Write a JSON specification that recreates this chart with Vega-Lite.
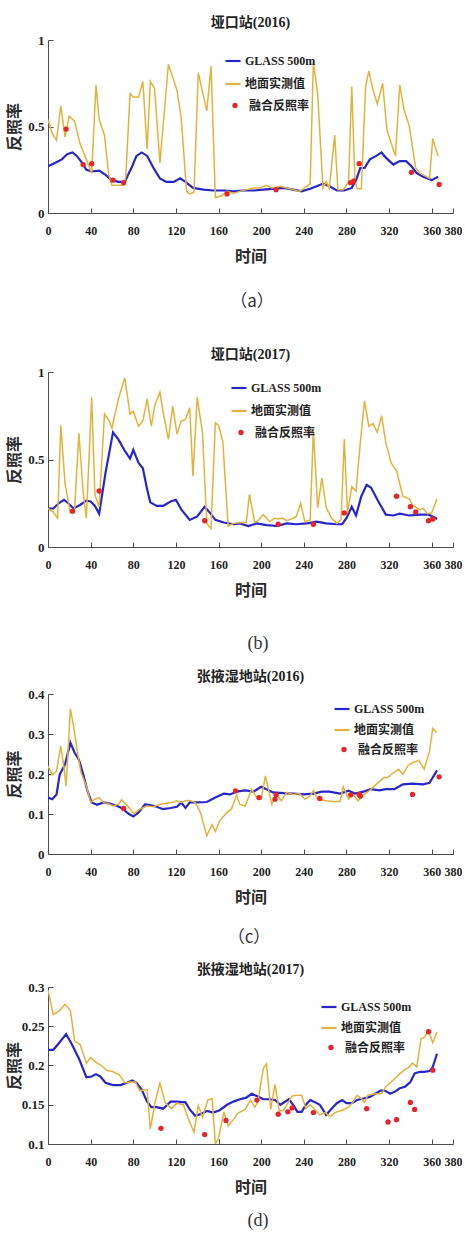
{
 "$schema": "https://vega.github.io/schema/vega-lite/v6.json",
 "background": "white",
 "padding": {"left": 6, "top": 16, "right": 0, "bottom": 0},
 "spacing": 17,
 "resolve": {"scale": {"color": "independent", "fill": "independent"}},
 "config": {
  "view": {"stroke": null},
  "font": "Liberation Serif, Noto Sans CJK SC",
  "axis": {"grid": false, "domainColor": "#4d4d4d", "tickColor": "#4d4d4d", "tickSize": -5, "labelFont": "Liberation Serif", "labelFontSize": 13, "labelFontWeight": "bold", "labelColor": "#1e1e1e", "titleFont": "Noto Sans CJK SC", "titleFontSize": 16, "titleFontWeight": "bold", "titleColor": "#2a2a2a"},
  "axisX": {"labelPadding": 17, "titlePadding": 12, "labelOverlap": false, "labelFlush": false, "labelFontSize": 12},
  "axisY": {"labelPadding": 9, "titlePadding": 0, "minExtent": 26, "maxExtent": 26, "labelOverlap": false},
  "title": {"font": "Liberation Serif, Noto Sans CJK SC", "fontSize": 14, "fontWeight": "bold", "color": "#222222", "offset": 4, "frame": "group"},
  "legend": {"orient": "none", "title": null, "labelFont": "Liberation Serif, Noto Sans CJK SC", "labelFontSize": 12, "labelFontWeight": "bold", "labelColor": "#222222", "symbolSize": 225, "symbolStrokeWidth": 2.2, "rowPadding": 8, "labelOffset": 3, "padding": 0}
 },
 "datasets": {
  "a": [
   {"series":"GLASS 500m","day":0,"albedo":0.27},{"series":"GLASS 500m","day":7,"albedo":0.29},{"series":"GLASS 500m","day":13,"albedo":0.31},{"series":"GLASS 500m","day":18,"albedo":0.34},{"series":"GLASS 500m","day":23,"albedo":0.35},{"series":"GLASS 500m","day":27,"albedo":0.33},{"series":"GLASS 500m","day":32,"albedo":0.29},{"series":"GLASS 500m","day":36,"albedo":0.25},{"series":"GLASS 500m","day":41,"albedo":0.24},{"series":"GLASS 500m","day":48,"albedo":0.245},{"series":"GLASS 500m","day":54,"albedo":0.22},{"series":"GLASS 500m","day":60,"albedo":0.19},{"series":"GLASS 500m","day":66,"albedo":0.18},{"series":"GLASS 500m","day":72,"albedo":0.18},{"series":"GLASS 500m","day":79,"albedo":0.27},{"series":"GLASS 500m","day":83,"albedo":0.33},{"series":"GLASS 500m","day":88,"albedo":0.35},{"series":"GLASS 500m","day":93,"albedo":0.33},{"series":"GLASS 500m","day":99,"albedo":0.26},{"series":"GLASS 500m","day":105,"albedo":0.2},{"series":"GLASS 500m","day":111,"albedo":0.18},{"series":"GLASS 500m","day":118,"albedo":0.18},{"series":"GLASS 500m","day":124,"albedo":0.2},{"series":"GLASS 500m","day":129,"albedo":0.18},{"series":"GLASS 500m","day":136,"albedo":0.145},{"series":"GLASS 500m","day":146,"albedo":0.135},{"series":"GLASS 500m","day":155,"albedo":0.13},{"series":"GLASS 500m","day":165,"albedo":0.13},{"series":"GLASS 500m","day":174,"albedo":0.125},{"series":"GLASS 500m","day":183,"albedo":0.13},{"series":"GLASS 500m","day":193,"albedo":0.13},{"series":"GLASS 500m","day":202,"albedo":0.135},{"series":"GLASS 500m","day":211,"albedo":0.14},{"series":"GLASS 500m","day":221,"albedo":0.145},{"series":"GLASS 500m","day":230,"albedo":0.135},{"series":"GLASS 500m","day":238,"albedo":0.125},{"series":"GLASS 500m","day":246,"albedo":0.14},{"series":"GLASS 500m","day":252,"albedo":0.155},{"series":"GLASS 500m","day":258,"albedo":0.17},{"series":"GLASS 500m","day":264,"albedo":0.155},{"series":"GLASS 500m","day":271,"albedo":0.13},{"series":"GLASS 500m","day":278,"albedo":0.13},{"series":"GLASS 500m","day":285,"albedo":0.145},{"series":"GLASS 500m","day":289,"albedo":0.19},{"series":"GLASS 500m","day":293,"albedo":0.26},{"series":"GLASS 500m","day":297,"albedo":0.26},{"series":"GLASS 500m","day":302,"albedo":0.31},{"series":"GLASS 500m","day":308,"albedo":0.33},{"series":"GLASS 500m","day":313,"albedo":0.35},{"series":"GLASS 500m","day":317,"albedo":0.32},{"series":"GLASS 500m","day":324,"albedo":0.28},{"series":"GLASS 500m","day":330,"albedo":0.3},{"series":"GLASS 500m","day":336,"albedo":0.3},{"series":"GLASS 500m","day":341,"albedo":0.27},{"series":"GLASS 500m","day":346,"albedo":0.23},{"series":"GLASS 500m","day":352,"albedo":0.21},{"series":"GLASS 500m","day":360,"albedo":0.19},{"series":"GLASS 500m","day":366,"albedo":0.21},
   {"series":"地面实测值","day":0,"albedo":0.54},{"series":"地面实测值","day":4,"albedo":0.46},{"series":"地面实测值","day":8,"albedo":0.42},{"series":"地面实测值","day":12,"albedo":0.62},{"series":"地面实测值","day":16,"albedo":0.44},{"series":"地面实测值","day":20,"albedo":0.56},{"series":"地面实测值","day":25,"albedo":0.53},{"series":"地面实测值","day":30,"albedo":0.4},{"series":"地面实测值","day":36,"albedo":0.31},{"series":"地面实测值","day":41,"albedo":0.23},{"series":"地面实测值","day":45,"albedo":0.74},{"series":"地面实测值","day":48,"albedo":0.54},{"series":"地面实测值","day":53,"albedo":0.45},{"series":"地面实测值","day":57,"albedo":0.22},{"series":"地面实测值","day":60,"albedo":0.16},{"series":"地面实测值","day":66,"albedo":0.16},{"series":"地面实测值","day":71,"albedo":0.16},{"series":"地面实测值","day":73,"albedo":0.21},{"series":"地面实测值","day":77,"albedo":0.69},{"series":"地面实测值","day":80,"albedo":0.67},{"series":"地面实测值","day":85,"albedo":0.67},{"series":"地面实测值","day":89,"albedo":0.76},{"series":"地面实测值","day":93,"albedo":0.37},{"series":"地面实测值","day":96,"albedo":0.76},{"series":"地面实测值","day":100,"albedo":0.72},{"series":"地面实测值","day":105,"albedo":0.29},{"series":"地面实测值","day":113,"albedo":0.86},{"series":"地面实测值","day":121,"albedo":0.71},{"series":"地面实测值","day":125,"albedo":0.55},{"series":"地面实测值","day":130,"albedo":0.125},{"series":"地面实测值","day":133,"albedo":0.11},{"series":"地面实测值","day":137,"albedo":0.12},{"series":"地面实测值","day":141,"albedo":0.81},{"series":"地面实测值","day":149,"albedo":0.59},{"series":"地面实测值","day":153,"albedo":0.85},{"series":"地面实测值","day":157,"albedo":0.09},{"series":"地面实测值","day":163,"albedo":0.1},{"series":"地面实测值","day":168,"albedo":0.125},{"series":"地面实测值","day":174,"albedo":0.115},{"series":"地面实测值","day":180,"albedo":0.125},{"series":"地面实测值","day":186,"albedo":0.135},{"series":"地面实测值","day":193,"albedo":0.145},{"series":"地面实测值","day":199,"albedo":0.145},{"series":"地面实测值","day":205,"albedo":0.16},{"series":"地面实测值","day":210,"albedo":0.145},{"series":"地面实测值","day":218,"albedo":0.155},{"series":"地面实测值","day":224,"albedo":0.145},{"series":"地面实测值","day":230,"albedo":0.135},{"series":"地面实测值","day":236,"albedo":0.125},{"series":"地面实测值","day":243,"albedo":0.155},{"series":"地面实测值","day":246,"albedo":0.17},{"series":"地面实测值","day":249,"albedo":0.87},{"series":"地面实测值","day":253,"albedo":0.69},{"series":"地面实测值","day":258,"albedo":0.145},{"series":"地面实测值","day":261,"albedo":0.18},{"series":"地面实测值","day":264,"albedo":0.145},{"series":"地面实测值","day":269,"albedo":0.45},{"series":"地面实测值","day":272,"albedo":0.135},{"series":"地面实测值","day":277,"albedo":0.135},{"series":"地面实测值","day":282,"albedo":0.18},{"series":"地面实测值","day":285,"albedo":0.73},{"series":"地面实测值","day":288,"albedo":0.19},{"series":"地面实测值","day":290,"albedo":0.14},{"series":"地面实测值","day":294,"albedo":0.14},{"series":"地面实测值","day":298,"albedo":0.73},{"series":"地面实测值","day":301,"albedo":0.82},{"series":"地面实测值","day":305,"albedo":0.71},{"series":"地面实测值","day":309,"albedo":0.63},{"series":"地面实测值","day":314,"albedo":0.75},{"series":"地面实测值","day":318,"albedo":0.48},{"series":"地面实测值","day":326,"albedo":0.33},{"series":"地面实测值","day":330,"albedo":0.74},{"series":"地面实测值","day":334,"albedo":0.6},{"series":"地面实测值","day":339,"albedo":0.5},{"series":"地面实测值","day":345,"albedo":0.26},{"series":"地面实测值","day":349,"albedo":0.23},{"series":"地面实测值","day":358,"albedo":0.2},{"series":"地面实测值","day":361,"albedo":0.43},{"series":"地面实测值","day":366,"albedo":0.33},
   {"series":"融合反照率","day":17,"albedo":0.485},{"series":"融合反照率","day":33,"albedo":0.28},{"series":"融合反照率","day":41,"albedo":0.285},{"series":"融合反照率","day":61,"albedo":0.19},{"series":"融合反照率","day":71,"albedo":0.175},{"series":"融合反照率","day":168,"albedo":0.11},{"series":"融合反照率","day":214,"albedo":0.135},{"series":"融合反照率","day":284,"albedo":0.175},{"series":"融合反照率","day":287,"albedo":0.185},{"series":"融合反照率","day":292,"albedo":0.285},{"series":"融合反照率","day":341,"albedo":0.235},{"series":"融合反照率","day":367,"albedo":0.165}
  ],
  "b": [
   {"series":"GLASS 500m","day":0,"albedo":0.22},{"series":"GLASS 500m","day":5,"albedo":0.22},{"series":"GLASS 500m","day":10,"albedo":0.25},{"series":"GLASS 500m","day":15,"albedo":0.27},{"series":"GLASS 500m","day":19,"albedo":0.25},{"series":"GLASS 500m","day":24,"albedo":0.22},{"series":"GLASS 500m","day":30,"albedo":0.24},{"series":"GLASS 500m","day":36,"albedo":0.265},{"series":"GLASS 500m","day":40,"albedo":0.26},{"series":"GLASS 500m","day":44,"albedo":0.235},{"series":"GLASS 500m","day":48,"albedo":0.19},{"series":"GLASS 500m","day":54,"albedo":0.425},{"series":"GLASS 500m","day":61,"albedo":0.655},{"series":"GLASS 500m","day":66,"albedo":0.615},{"series":"GLASS 500m","day":72,"albedo":0.55},{"series":"GLASS 500m","day":77,"albedo":0.505},{"series":"GLASS 500m","day":80,"albedo":0.555},{"series":"GLASS 500m","day":85,"albedo":0.48},{"series":"GLASS 500m","day":89,"albedo":0.45},{"series":"GLASS 500m","day":93,"albedo":0.33},{"series":"GLASS 500m","day":96,"albedo":0.255},{"series":"GLASS 500m","day":102,"albedo":0.235},{"series":"GLASS 500m","day":108,"albedo":0.235},{"series":"GLASS 500m","day":115,"albedo":0.26},{"series":"GLASS 500m","day":120,"albedo":0.27},{"series":"GLASS 500m","day":125,"albedo":0.215},{"series":"GLASS 500m","day":133,"albedo":0.155},{"series":"GLASS 500m","day":140,"albedo":0.175},{"series":"GLASS 500m","day":147,"albedo":0.23},{"series":"GLASS 500m","day":152,"albedo":0.195},{"series":"GLASS 500m","day":157,"albedo":0.155},{"series":"GLASS 500m","day":165,"albedo":0.14},{"series":"GLASS 500m","day":174,"albedo":0.13},{"series":"GLASS 500m","day":180,"albedo":0.135},{"series":"GLASS 500m","day":188,"albedo":0.12},{"series":"GLASS 500m","day":196,"albedo":0.135},{"series":"GLASS 500m","day":205,"albedo":0.125},{"series":"GLASS 500m","day":215,"albedo":0.12},{"series":"GLASS 500m","day":224,"albedo":0.135},{"series":"GLASS 500m","day":233,"albedo":0.13},{"series":"GLASS 500m","day":243,"albedo":0.135},{"series":"GLASS 500m","day":252,"albedo":0.145},{"series":"GLASS 500m","day":261,"albedo":0.135},{"series":"GLASS 500m","day":271,"albedo":0.13},{"series":"GLASS 500m","day":276,"albedo":0.13},{"series":"GLASS 500m","day":280,"albedo":0.165},{"series":"GLASS 500m","day":285,"albedo":0.23},{"series":"GLASS 500m","day":289,"albedo":0.18},{"series":"GLASS 500m","day":294,"albedo":0.29},{"series":"GLASS 500m","day":299,"albedo":0.355},{"series":"GLASS 500m","day":303,"albedo":0.34},{"series":"GLASS 500m","day":310,"albedo":0.26},{"series":"GLASS 500m","day":317,"albedo":0.185},{"series":"GLASS 500m","day":324,"albedo":0.18},{"series":"GLASS 500m","day":330,"albedo":0.19},{"series":"GLASS 500m","day":339,"albedo":0.18},{"series":"GLASS 500m","day":349,"albedo":0.185},{"series":"GLASS 500m","day":357,"albedo":0.185},{"series":"GLASS 500m","day":361,"albedo":0.175},{"series":"GLASS 500m","day":365,"albedo":0.16},
   {"series":"地面实测值","day":0,"albedo":0.22},{"series":"地面实测值","day":5,"albedo":0.2},{"series":"地面实测值","day":9,"albedo":0.165},{"series":"地面实测值","day":12,"albedo":0.695},{"series":"地面实测值","day":16,"albedo":0.36},{"series":"地面实测值","day":21,"albedo":0.195},{"series":"地面实测值","day":25,"albedo":0.22},{"series":"地面实测值","day":29,"albedo":0.65},{"series":"地面实测值","day":33,"albedo":0.31},{"series":"地面实测值","day":36,"albedo":0.165},{"series":"地面实测值","day":41,"albedo":0.855},{"series":"地面实测值","day":44,"albedo":0.3},{"series":"地面实测值","day":48,"albedo":0.23},{"series":"地面实测值","day":53,"albedo":0.76},{"series":"地面实测值","day":57,"albedo":0.725},{"series":"地面实测值","day":60,"albedo":0.68},{"series":"地面实测值","day":66,"albedo":0.845},{"series":"地面实测值","day":72,"albedo":0.965},{"series":"地面实测值","day":77,"albedo":0.76},{"series":"地面实测值","day":80,"albedo":0.775},{"series":"地面实测值","day":85,"albedo":0.69},{"series":"地面实测值","day":89,"albedo":0.72},{"series":"地面实测值","day":93,"albedo":0.845},{"series":"地面实测值","day":97,"albedo":0.69},{"series":"地面实测值","day":100,"albedo":0.805},{"series":"地面实测值","day":105,"albedo":0.885},{"series":"地面实测值","day":108,"albedo":0.77},{"series":"地面实测值","day":113,"albedo":0.615},{"series":"地面实测值","day":117,"albedo":0.805},{"series":"地面实测值","day":121,"albedo":0.645},{"series":"地面实测值","day":125,"albedo":0.72},{"series":"地面实测值","day":129,"albedo":0.73},{"series":"地面实测值","day":133,"albedo":0.795},{"series":"地面实测值","day":136,"albedo":0.405},{"series":"地面实测值","day":140,"albedo":0.855},{"series":"地面实测值","day":145,"albedo":0.65},{"series":"地面实测值","day":149,"albedo":0.135},{"series":"地面实测值","day":153,"albedo":0.105},{"series":"地面实测值","day":157,"albedo":0.71},{"series":"地面实测值","day":160,"albedo":0.695},{"series":"地面实测值","day":164,"albedo":0.605},{"series":"地面实测值","day":169,"albedo":0.12},{"series":"地面实测值","day":174,"albedo":0.135},{"series":"地面实测值","day":183,"albedo":0.14},{"series":"地面实测值","day":186,"albedo":0.14},{"series":"地面实测值","day":189,"albedo":0.3},{"series":"地面实测值","day":194,"albedo":0.14},{"series":"地面实测值","day":197,"albedo":0.15},{"series":"地面实测值","day":202,"albedo":0.185},{"series":"地面实测值","day":208,"albedo":0.145},{"series":"地面实测值","day":213,"albedo":0.165},{"series":"地面实测值","day":216,"albedo":0.16},{"series":"地面实测值","day":220,"albedo":0.165},{"series":"地面实测值","day":224,"albedo":0.15},{"series":"地面实测值","day":230,"albedo":0.165},{"series":"地面实测值","day":233,"albedo":0.175},{"series":"地面实测值","day":237,"albedo":0.25},{"series":"地面实测值","day":241,"albedo":0.145},{"series":"地面实测值","day":246,"albedo":0.155},{"series":"地面实测值","day":249,"albedo":0.67},{"series":"地面实测值","day":253,"albedo":0.225},{"series":"地面实测值","day":257,"albedo":0.395},{"series":"地面实测值","day":261,"albedo":0.225},{"series":"地面实测值","day":266,"albedo":0.165},{"series":"地面实测值","day":271,"albedo":0.135},{"series":"地面实测值","day":275,"albedo":0.155},{"series":"地面实测值","day":278,"albedo":0.615},{"series":"地面实测值","day":281,"albedo":0.195},{"series":"地面实测值","day":285,"albedo":0.345},{"series":"地面实测值","day":289,"albedo":0.32},{"series":"地面实测值","day":293,"albedo":0.595},{"series":"地面实测值","day":297,"albedo":0.835},{"series":"地面实测值","day":301,"albedo":0.69},{"series":"地面实测值","day":305,"albedo":0.705},{"series":"地面实测值","day":309,"albedo":0.655},{"series":"地面实测值","day":313,"albedo":0.75},{"series":"地面实测值","day":317,"albedo":0.595},{"series":"地面实测值","day":322,"albedo":0.48},{"series":"地面实测值","day":327,"albedo":0.435},{"series":"地面实测值","day":333,"albedo":0.29},{"series":"地面实测值","day":339,"albedo":0.275},{"series":"地面实测值","day":342,"albedo":0.24},{"series":"地面实测值","day":348,"albedo":0.215},{"series":"地面实测值","day":352,"albedo":0.22},{"series":"地面实测值","day":356,"albedo":0.19},{"series":"地面实测值","day":360,"albedo":0.195},{"series":"地面实测值","day":365,"albedo":0.275},
   {"series":"融合反照率","day":23,"albedo":0.205},{"series":"融合反照率","day":48,"albedo":0.32},{"series":"融合反照率","day":147,"albedo":0.15},{"series":"融合反照率","day":216,"albedo":0.13},{"series":"融合反照率","day":249,"albedo":0.13},{"series":"融合反照率","day":278,"albedo":0.195},{"series":"融合反照率","day":327,"albedo":0.29},{"series":"融合反照率","day":340,"albedo":0.23},{"series":"融合反照率","day":345,"albedo":0.2},{"series":"融合反照率","day":357,"albedo":0.15},{"series":"融合反照率","day":361,"albedo":0.16}
  ],
  "c": [
   {"series":"GLASS 500m","day":0,"albedo":0.141},{"series":"GLASS 500m","day":4,"albedo":0.137},{"series":"GLASS 500m","day":8,"albedo":0.149},{"series":"GLASS 500m","day":11,"albedo":0.199},{"series":"GLASS 500m","day":16,"albedo":0.224},{"series":"GLASS 500m","day":21,"albedo":0.278},{"series":"GLASS 500m","day":25,"albedo":0.253},{"series":"GLASS 500m","day":29,"albedo":0.236},{"series":"GLASS 500m","day":33,"albedo":0.199},{"series":"GLASS 500m","day":37,"albedo":0.158},{"series":"GLASS 500m","day":41,"albedo":0.129},{"series":"GLASS 500m","day":46,"albedo":0.123},{"series":"GLASS 500m","day":52,"albedo":0.129},{"series":"GLASS 500m","day":58,"albedo":0.126},{"series":"GLASS 500m","day":65,"albedo":0.12},{"series":"GLASS 500m","day":69,"albedo":0.115},{"series":"GLASS 500m","day":76,"albedo":0.1},{"series":"GLASS 500m","day":80,"albedo":0.094},{"series":"GLASS 500m","day":85,"albedo":0.104},{"series":"GLASS 500m","day":91,"albedo":0.124},{"series":"GLASS 500m","day":96,"albedo":0.122},{"series":"GLASS 500m","day":102,"albedo":0.118},{"series":"GLASS 500m","day":108,"albedo":0.112},{"series":"GLASS 500m","day":115,"albedo":0.115},{"series":"GLASS 500m","day":121,"albedo":0.118},{"series":"GLASS 500m","day":125,"albedo":0.129},{"series":"GLASS 500m","day":129,"albedo":0.115},{"series":"GLASS 500m","day":133,"albedo":0.129},{"series":"GLASS 500m","day":140,"albedo":0.129},{"series":"GLASS 500m","day":149,"albedo":0.13},{"series":"GLASS 500m","day":157,"albedo":0.141},{"series":"GLASS 500m","day":165,"albedo":0.151},{"series":"GLASS 500m","day":171,"albedo":0.149},{"series":"GLASS 500m","day":177,"albedo":0.156},{"series":"GLASS 500m","day":185,"albedo":0.159},{"series":"GLASS 500m","day":193,"albedo":0.156},{"series":"GLASS 500m","day":200,"albedo":0.168},{"series":"GLASS 500m","day":205,"albedo":0.162},{"series":"GLASS 500m","day":211,"albedo":0.154},{"series":"GLASS 500m","day":221,"albedo":0.152},{"series":"GLASS 500m","day":230,"albedo":0.151},{"series":"GLASS 500m","day":240,"albedo":0.149},{"series":"GLASS 500m","day":249,"albedo":0.151},{"series":"GLASS 500m","day":257,"albedo":0.156},{"series":"GLASS 500m","day":264,"albedo":0.156},{"series":"GLASS 500m","day":274,"albedo":0.151},{"series":"GLASS 500m","day":282,"albedo":0.158},{"series":"GLASS 500m","day":288,"albedo":0.151},{"series":"GLASS 500m","day":296,"albedo":0.156},{"series":"GLASS 500m","day":303,"albedo":0.162},{"series":"GLASS 500m","day":311,"albedo":0.159},{"series":"GLASS 500m","day":317,"albedo":0.162},{"series":"GLASS 500m","day":325,"albedo":0.162},{"series":"GLASS 500m","day":333,"albedo":0.174},{"series":"GLASS 500m","day":342,"albedo":0.176},{"series":"GLASS 500m","day":352,"albedo":0.174},{"series":"GLASS 500m","day":358,"albedo":0.178},{"series":"GLASS 500m","day":365,"albedo":0.209},
   {"series":"地面实测值","day":0,"albedo":0.22},{"series":"地面实测值","day":4,"albedo":0.198},{"series":"地面实测值","day":8,"albedo":0.207},{"series":"地面实测值","day":12,"albedo":0.27},{"series":"地面实测值","day":15,"albedo":0.216},{"series":"地面实测值","day":17,"albedo":0.17},{"series":"地面实测值","day":21,"albedo":0.363},{"series":"地面实测值","day":24,"albedo":0.32},{"series":"地面实测值","day":28,"albedo":0.249},{"series":"地面实测值","day":31,"albedo":0.203},{"series":"地面实测值","day":36,"albedo":0.17},{"series":"地面实测值","day":40,"albedo":0.129},{"series":"地面实测值","day":44,"albedo":0.137},{"series":"地面实测值","day":48,"albedo":0.141},{"series":"地面实测值","day":52,"albedo":0.129},{"series":"地面实测值","day":57,"albedo":0.126},{"series":"地面实测值","day":61,"albedo":0.12},{"series":"地面实测值","day":66,"albedo":0.124},{"series":"地面实测值","day":69,"albedo":0.135},{"series":"地面实测值","day":74,"albedo":0.122},{"series":"地面实测值","day":81,"albedo":0.101},{"series":"地面实测值","day":86,"albedo":0.112},{"series":"地面实测值","day":93,"albedo":0.12},{"series":"地面实测值","day":99,"albedo":0.118},{"series":"地面实测值","day":105,"albedo":0.124},{"series":"地面实测值","day":111,"albedo":0.127},{"series":"地面实测值","day":116,"albedo":0.129},{"series":"地面实测值","day":121,"albedo":0.133},{"series":"地面实测值","day":125,"albedo":0.129},{"series":"地面实测值","day":129,"albedo":0.133},{"series":"地面实测值","day":133,"albedo":0.134},{"series":"地面实测值","day":138,"albedo":0.129},{"series":"地面实测值","day":143,"albedo":0.104},{"series":"地面实测值","day":149,"albedo":0.046},{"series":"地面实测值","day":154,"albedo":0.073},{"series":"地面实测值","day":157,"albedo":0.056},{"series":"地面实测值","day":161,"albedo":0.083},{"series":"地面实测值","day":168,"albedo":0.104},{"series":"地面实测值","day":172,"albedo":0.112},{"series":"地面实测值","day":177,"albedo":0.147},{"series":"地面实测值","day":180,"albedo":0.124},{"series":"地面实测值","day":185,"albedo":0.12},{"series":"地面实测值","day":191,"albedo":0.162},{"series":"地面实测值","day":196,"albedo":0.141},{"series":"地面实测值","day":200,"albedo":0.137},{"series":"地面实测值","day":204,"albedo":0.195},{"series":"地面实测值","day":210,"albedo":0.124},{"series":"地面实测值","day":214,"albedo":0.149},{"series":"地面实测值","day":219,"albedo":0.133},{"series":"地面实测值","day":224,"albedo":0.154},{"series":"地面实测值","day":230,"albedo":0.149},{"series":"地面实测值","day":236,"albedo":0.151},{"series":"地面实测值","day":241,"albedo":0.137},{"series":"地面实测值","day":246,"albedo":0.145},{"series":"地面实测值","day":249,"albedo":0.159},{"series":"地面实测值","day":253,"albedo":0.137},{"series":"地面实测值","day":261,"albedo":0.133},{"series":"地面实测值","day":268,"albedo":0.131},{"series":"地面实测值","day":274,"albedo":0.131},{"series":"地面实测值","day":277,"albedo":0.168},{"series":"地面实测值","day":282,"albedo":0.137},{"series":"地面实测值","day":286,"albedo":0.149},{"series":"地面实测值","day":291,"albedo":0.133},{"series":"地面实测值","day":296,"albedo":0.148},{"series":"地面实测值","day":302,"albedo":0.159},{"series":"地面实测值","day":308,"albedo":0.174},{"series":"地面实测值","day":315,"albedo":0.191},{"series":"地面实测值","day":319,"albedo":0.191},{"series":"地面实测值","day":324,"albedo":0.203},{"series":"地面实测值","day":329,"albedo":0.212},{"series":"地面实测值","day":333,"albedo":0.199},{"series":"地面实测值","day":338,"albedo":0.222},{"series":"地面实测值","day":342,"albedo":0.228},{"series":"地面实测值","day":348,"albedo":0.234},{"series":"地面实测值","day":353,"albedo":0.212},{"series":"地面实测值","day":358,"albedo":0.257},{"series":"地面实测值","day":361,"albedo":0.314},{"series":"地面实测值","day":365,"albedo":0.303},
   {"series":"融合反照率","day":71,"albedo":0.114},{"series":"融合反照率","day":176,"albedo":0.158},{"series":"融合反照率","day":198,"albedo":0.141},{"series":"融合反照率","day":213,"albedo":0.137},{"series":"融合反照率","day":214,"albedo":0.148},{"series":"融合反照率","day":255,"albedo":0.139},{"series":"融合反照率","day":284,"albedo":0.148},{"series":"融合反照率","day":292,"albedo":0.149},{"series":"融合反照率","day":293,"albedo":0.145},{"series":"融合反照率","day":342,"albedo":0.149},{"series":"融合反照率","day":367,"albedo":0.193}
  ],
  "d": [
   {"series":"GLASS 500m","day":0,"albedo":0.22},{"series":"GLASS 500m","day":5,"albedo":0.22},{"series":"GLASS 500m","day":10,"albedo":0.228},{"series":"GLASS 500m","day":17,"albedo":0.24},{"series":"GLASS 500m","day":22,"albedo":0.228},{"series":"GLASS 500m","day":29,"albedo":0.209},{"series":"GLASS 500m","day":36,"albedo":0.185},{"series":"GLASS 500m","day":41,"albedo":0.186},{"series":"GLASS 500m","day":45,"albedo":0.189},{"series":"GLASS 500m","day":49,"albedo":0.186},{"series":"GLASS 500m","day":54,"albedo":0.178},{"series":"GLASS 500m","day":61,"albedo":0.175},{"series":"GLASS 500m","day":68,"albedo":0.175},{"series":"GLASS 500m","day":74,"albedo":0.178},{"series":"GLASS 500m","day":79,"albedo":0.181},{"series":"GLASS 500m","day":83,"albedo":0.178},{"series":"GLASS 500m","day":88,"albedo":0.169},{"series":"GLASS 500m","day":93,"albedo":0.154},{"series":"GLASS 500m","day":97,"albedo":0.147},{"series":"GLASS 500m","day":102,"albedo":0.147},{"series":"GLASS 500m","day":108,"albedo":0.145},{"series":"GLASS 500m","day":115,"albedo":0.154},{"series":"GLASS 500m","day":121,"albedo":0.154},{"series":"GLASS 500m","day":129,"albedo":0.153},{"series":"GLASS 500m","day":133,"albedo":0.144},{"series":"GLASS 500m","day":138,"albedo":0.136},{"series":"GLASS 500m","day":143,"albedo":0.138},{"series":"GLASS 500m","day":149,"albedo":0.142},{"series":"GLASS 500m","day":155,"albedo":0.14},{"series":"GLASS 500m","day":161,"albedo":0.143},{"series":"GLASS 500m","day":168,"albedo":0.15},{"series":"GLASS 500m","day":174,"albedo":0.154},{"series":"GLASS 500m","day":180,"albedo":0.157},{"series":"GLASS 500m","day":186,"albedo":0.159},{"series":"GLASS 500m","day":191,"albedo":0.164},{"series":"GLASS 500m","day":196,"albedo":0.161},{"series":"GLASS 500m","day":202,"albedo":0.157},{"series":"GLASS 500m","day":208,"albedo":0.157},{"series":"GLASS 500m","day":213,"albedo":0.156},{"series":"GLASS 500m","day":218,"albedo":0.15},{"series":"GLASS 500m","day":226,"albedo":0.157},{"series":"GLASS 500m","day":230,"albedo":0.15},{"series":"GLASS 500m","day":234,"albedo":0.141},{"series":"GLASS 500m","day":238,"albedo":0.141},{"series":"GLASS 500m","day":242,"albedo":0.15},{"series":"GLASS 500m","day":246,"albedo":0.156},{"series":"GLASS 500m","day":251,"albedo":0.153},{"series":"GLASS 500m","day":255,"albedo":0.15},{"series":"GLASS 500m","day":261,"albedo":0.137},{"series":"GLASS 500m","day":266,"albedo":0.145},{"series":"GLASS 500m","day":271,"albedo":0.152},{"series":"GLASS 500m","day":276,"albedo":0.156},{"series":"GLASS 500m","day":280,"albedo":0.152},{"series":"GLASS 500m","day":285,"albedo":0.152},{"series":"GLASS 500m","day":290,"albedo":0.156},{"series":"GLASS 500m","day":296,"albedo":0.158},{"series":"GLASS 500m","day":302,"albedo":0.16},{"series":"GLASS 500m","day":307,"albedo":0.164},{"series":"GLASS 500m","day":312,"albedo":0.168},{"series":"GLASS 500m","day":316,"albedo":0.168},{"series":"GLASS 500m","day":321,"albedo":0.164},{"series":"GLASS 500m","day":326,"albedo":0.167},{"series":"GLASS 500m","day":330,"albedo":0.171},{"series":"GLASS 500m","day":335,"albedo":0.173},{"series":"GLASS 500m","day":340,"albedo":0.179},{"series":"GLASS 500m","day":344,"albedo":0.19},{"series":"GLASS 500m","day":349,"albedo":0.192},{"series":"GLASS 500m","day":353,"albedo":0.192},{"series":"GLASS 500m","day":358,"albedo":0.193},{"series":"GLASS 500m","day":361,"albedo":0.198},{"series":"GLASS 500m","day":365,"albedo":0.215},
   {"series":"地面实测值","day":0,"albedo":0.296},{"series":"地面实测值","day":5,"albedo":0.265},{"series":"地面实测值","day":10,"albedo":0.269},{"series":"地面实测值","day":16,"albedo":0.278},{"series":"地面实测值","day":21,"albedo":0.27},{"series":"地面实测值","day":25,"albedo":0.231},{"series":"地面实测值","day":30,"albedo":0.227},{"series":"地面实测值","day":36,"albedo":0.203},{"series":"地面实测值","day":40,"albedo":0.21},{"series":"地面实测值","day":46,"albedo":0.203},{"series":"地面实测值","day":50,"albedo":0.2},{"series":"地面实测值","day":55,"albedo":0.194},{"series":"地面实测值","day":61,"albedo":0.192},{"series":"地面实测值","day":67,"albedo":0.188},{"series":"地面实测值","day":72,"albedo":0.178},{"series":"地面实测值","day":77,"albedo":0.179},{"series":"地面实测值","day":82,"albedo":0.179},{"series":"地面实测值","day":86,"albedo":0.168},{"series":"地面实测值","day":93,"albedo":0.169},{"series":"地面实测值","day":96,"albedo":0.119},{"series":"地面实测值","day":100,"albedo":0.15},{"series":"地面实测值","day":105,"albedo":0.178},{"series":"地面实测值","day":110,"albedo":0.152},{"series":"地面实测值","day":116,"albedo":0.145},{"series":"地面实测值","day":121,"albedo":0.152},{"series":"地面实测值","day":127,"albedo":0.15},{"series":"地面实测值","day":132,"albedo":0.131},{"series":"地面实测值","day":137,"albedo":0.115},{"series":"地面实测值","day":141,"albedo":0.149},{"series":"地面实测值","day":145,"albedo":0.134},{"series":"地面实测值","day":150,"albedo":0.156},{"series":"地面实测值","day":154,"albedo":0.158},{"series":"地面实测值","day":157,"albedo":0.1},{"series":"地面实测值","day":160,"albedo":0.107},{"series":"地面实测值","day":165,"albedo":0.141},{"series":"地面实测值","day":169,"albedo":0.123},{"series":"地面实测值","day":174,"albedo":0.131},{"series":"地面实测值","day":178,"albedo":0.139},{"series":"地面实测值","day":185,"albedo":0.144},{"series":"地面实测值","day":190,"albedo":0.156},{"series":"地面实测值","day":194,"albedo":0.147},{"series":"地面实测值","day":197,"albedo":0.154},{"series":"地面实测值","day":202,"albedo":0.196},{"series":"地面实测值","day":205,"albedo":0.202},{"series":"地面实测值","day":209,"albedo":0.144},{"series":"地面实测值","day":213,"albedo":0.176},{"series":"地面实测值","day":217,"albedo":0.142},{"series":"地面实测值","day":221,"albedo":0.143},{"series":"地面实测值","day":225,"albedo":0.152},{"series":"地面实测值","day":229,"albedo":0.161},{"series":"地面实测值","day":233,"albedo":0.162},{"series":"地面实测值","day":238,"albedo":0.162},{"series":"地面实测值","day":242,"albedo":0.145},{"series":"地面实测值","day":246,"albedo":0.15},{"series":"地面实测值","day":251,"albedo":0.143},{"series":"地面实测值","day":255,"albedo":0.137},{"series":"地面实测值","day":260,"albedo":0.14},{"series":"地面实测值","day":265,"albedo":0.135},{"series":"地面实测值","day":269,"albedo":0.14},{"series":"地面实测值","day":276,"albedo":0.143},{"series":"地面实测值","day":282,"albedo":0.147},{"series":"地面实测值","day":286,"albedo":0.153},{"series":"地面实测值","day":290,"albedo":0.162},{"series":"地面实测值","day":294,"albedo":0.158},{"series":"地面实测值","day":297,"albedo":0.153},{"series":"地面实测值","day":300,"albedo":0.162},{"series":"地面实测值","day":307,"albedo":0.164},{"series":"地面实测值","day":313,"albedo":0.164},{"series":"地面实测值","day":317,"albedo":0.173},{"series":"地面实测值","day":322,"albedo":0.179},{"series":"地面实测值","day":329,"albedo":0.188},{"series":"地面实测值","day":335,"albedo":0.195},{"series":"地面实测值","day":338,"albedo":0.197},{"series":"地面实测值","day":342,"albedo":0.203},{"series":"地面实测值","day":346,"albedo":0.198},{"series":"地面实测值","day":350,"albedo":0.234},{"series":"地面实测值","day":353,"albedo":0.236},{"series":"地面实测值","day":357,"albedo":0.244},{"series":"地面实测值","day":361,"albedo":0.229},{"series":"地面实测值","day":365,"albedo":0.243},
   {"series":"融合反照率","day":106,"albedo":0.12},{"series":"融合反照率","day":147,"albedo":0.112},{"series":"融合反照率","day":167,"albedo":0.13},{"series":"融合反照率","day":196,"albedo":0.156},{"series":"融合反照率","day":216,"albedo":0.138},{"series":"融合反照率","day":225,"albedo":0.141},{"series":"融合反照率","day":229,"albedo":0.146},{"series":"融合反照率","day":249,"albedo":0.14},{"series":"融合反照率","day":299,"albedo":0.145},{"series":"融合反照率","day":319,"albedo":0.128},{"series":"融合反照率","day":327,"albedo":0.131},{"series":"融合反照率","day":340,"albedo":0.153},{"series":"融合反照率","day":344,"albedo":0.144},{"series":"融合反照率","day":357,"albedo":0.243},{"series":"融合反照率","day":361,"albedo":0.194}
  ]
 },
 "vconcat": [
  {
   "title": {"text": ["（a）", ""], "orient": "bottom", "anchor": "middle", "frame": "bounds", "offset": 30, "dx": 18, "lineHeight": 21, "font": "Noto Sans CJK SC", "fontSize": 17, "fontWeight": "normal", "color": "#333333"},
   "resolve": {"scale": {"color": "independent", "fill": "independent"}},
   "vconcat": [
    {
     "title": {"text": "垭口站(2016)"},
     "width": 405, "height": 173,
     "data": {"name": "a"},
     "encoding": {
      "x": {"field": "day", "type": "quantitative", "scale": {"domain": [0, 380], "nice": false}, "axis": {"title": "时间", "values": [0,40,80,120,160,200,240,280,320,360,380], "format": "d"}},
      "y": {"field": "albedo", "type": "quantitative", "scale": {"domain": [0, 1], "nice": false}, "axis": {"title": "反照率", "values": [0, 0.5, 1], "format": "~g"}}
     },
     "layer": [
      {"transform": [{"filter": "datum.series === 'GLASS 500m'"}], "mark": {"type": "line", "strokeWidth": 2.2, "clip": true},
       "encoding": {"color": {"field": "series", "type": "nominal", "scale": {"domain": ["GLASS 500m", "地面实测值"], "range": ["#2727c9", "#e3b23c"]}, "legend": {"legendX": 176, "legendY": 12}}}},
      {"transform": [{"filter": "datum.series === '地面实测值'"}], "mark": {"type": "line", "strokeWidth": 1.5, "clip": true},
       "encoding": {"color": {"field": "series", "type": "nominal", "scale": {"domain": ["GLASS 500m", "地面实测值"], "range": ["#2727c9", "#e3b23c"]}, "legend": {"legendX": 176, "legendY": 12}}}},
      {"transform": [{"filter": "datum.series === '融合反照率'"}], "mark": {"type": "circle", "size": 28, "opacity": 1},
       "encoding": {"fill": {"field": "series", "type": "nominal", "scale": {"domain": ["融合反照率"], "range": ["#e8232a"]}, "legend": {"legendX": 181, "legendY": 59.5, "symbolType": "circle", "symbolSize": 28, "labelOffset": 8}}}}
     ]
    }
   ]
  },
  {
   "title": {"text": "(b)", "orient": "bottom", "anchor": "middle", "frame": "bounds", "offset": 37, "dx": 24, "font": "Liberation Serif", "fontSize": 18, "fontWeight": "normal", "color": "#333333"},
   "resolve": {"scale": {"color": "independent", "fill": "independent"}},
   "vconcat": [
    {
     "title": {"text": "垭口站(2017)"},
     "width": 405, "height": 175,
     "data": {"name": "b"},
     "encoding": {
      "x": {"field": "day", "type": "quantitative", "scale": {"domain": [0, 380], "nice": false}, "axis": {"title": "时间", "values": [0,40,80,120,160,200,240,280,320,360,380], "format": "d"}},
      "y": {"field": "albedo", "type": "quantitative", "scale": {"domain": [0, 1], "nice": false}, "axis": {"title": "反照率", "values": [0, 0.5, 1], "format": "~g"}}
     },
     "layer": [
      {"transform": [{"filter": "datum.series === 'GLASS 500m'"}], "mark": {"type": "line", "strokeWidth": 2.2, "clip": true},
       "encoding": {"color": {"field": "series", "type": "nominal", "scale": {"domain": ["GLASS 500m", "地面实测值"], "range": ["#2727c9", "#e3b23c"]}, "legend": {"legendX": 182, "legendY": 7}}}},
      {"transform": [{"filter": "datum.series === '地面实测值'"}], "mark": {"type": "line", "strokeWidth": 1.5, "clip": true},
       "encoding": {"color": {"field": "series", "type": "nominal", "scale": {"domain": ["GLASS 500m", "地面实测值"], "range": ["#2727c9", "#e3b23c"]}, "legend": {"legendX": 182, "legendY": 7}}}},
      {"transform": [{"filter": "datum.series === '融合反照率'"}], "mark": {"type": "circle", "size": 28, "opacity": 1},
       "encoding": {"fill": {"field": "series", "type": "nominal", "scale": {"domain": ["融合反照率"], "range": ["#e8232a"]}, "legend": {"legendX": 187, "legendY": 54.5, "symbolType": "circle", "symbolSize": 28, "labelOffset": 8}}}}
     ]
    }
   ]
  },
  {
   "title": {"text": "（c）", "orient": "bottom", "anchor": "middle", "frame": "bounds", "offset": 25, "dx": 15, "font": "Noto Sans CJK SC", "fontSize": 17, "fontWeight": "normal", "color": "#333333"},
   "resolve": {"scale": {"color": "independent", "fill": "independent"}},
   "vconcat": [
    {
     "title": {"text": "张掖湿地站(2016)"},
     "width": 405, "height": 160,
     "data": {"name": "c"},
     "encoding": {
      "x": {"field": "day", "type": "quantitative", "scale": {"domain": [0, 380], "nice": false}, "axis": {"title": "时间", "values": [0,40,80,120,160,200,240,280,320,360,380], "format": "d"}},
      "y": {"field": "albedo", "type": "quantitative", "scale": {"domain": [0, 0.4], "nice": false}, "axis": {"title": "反照率", "values": [0, 0.1, 0.2, 0.3, 0.4], "format": "~g"}}
     },
     "layer": [
      {"transform": [{"filter": "datum.series === 'GLASS 500m'"}], "mark": {"type": "line", "strokeWidth": 2.2, "clip": true},
       "encoding": {"color": {"field": "series", "type": "nominal", "scale": {"domain": ["GLASS 500m", "地面实测值"], "range": ["#2727c9", "#e3b23c"]}, "legend": {"legendX": 285, "legendY": 6, "rowPadding": 6}}}},
      {"transform": [{"filter": "datum.series === '地面实测值'"}], "mark": {"type": "line", "strokeWidth": 1.5, "clip": true},
       "encoding": {"color": {"field": "series", "type": "nominal", "scale": {"domain": ["GLASS 500m", "地面实测值"], "range": ["#2727c9", "#e3b23c"]}, "legend": {"legendX": 285, "legendY": 6, "rowPadding": 6}}}},
      {"transform": [{"filter": "datum.series === '融合反照率'"}], "mark": {"type": "circle", "size": 28, "opacity": 1},
       "encoding": {"fill": {"field": "series", "type": "nominal", "scale": {"domain": ["融合反照率"], "range": ["#e8232a"]}, "legend": {"legendX": 290, "legendY": 49.5, "symbolType": "circle", "symbolSize": 28, "labelOffset": 8}}}}
     ]
    }
   ]
  },
  {
   "title": {"text": "(d)", "orient": "bottom", "anchor": "middle", "frame": "bounds", "offset": 17, "dx": 24, "font": "Liberation Serif", "fontSize": 18, "fontWeight": "normal", "color": "#333333"},
   "resolve": {"scale": {"color": "independent", "fill": "independent"}},
   "vconcat": [
    {
     "title": {"text": "张掖湿地站(2017)"},
     "width": 405, "height": 157,
     "data": {"name": "d"},
     "encoding": {
      "x": {"field": "day", "type": "quantitative", "scale": {"domain": [0, 380], "nice": false}, "axis": {"title": "时间", "values": [0,40,80,120,160,200,240,280,320,360,380], "format": "d"}},
      "y": {"field": "albedo", "type": "quantitative", "scale": {"domain": [0.1, 0.3], "nice": false}, "axis": {"title": "反照率", "values": [0.1, 0.15, 0.2, 0.25, 0.3], "format": "~g"}}
     },
     "layer": [
      {"transform": [{"filter": "datum.series === 'GLASS 500m'"}], "mark": {"type": "line", "strokeWidth": 2.2, "clip": true},
       "encoding": {"color": {"field": "series", "type": "nominal", "scale": {"domain": ["GLASS 500m", "地面实测值"], "range": ["#2727c9", "#e3b23c"]}, "legend": {"legendX": 272, "legendY": 11, "rowPadding": 6}}}},
      {"transform": [{"filter": "datum.series === '地面实测值'"}], "mark": {"type": "line", "strokeWidth": 1.5, "clip": true},
       "encoding": {"color": {"field": "series", "type": "nominal", "scale": {"domain": ["GLASS 500m", "地面实测值"], "range": ["#2727c9", "#e3b23c"]}, "legend": {"legendX": 272, "legendY": 11, "rowPadding": 6}}}},
      {"transform": [{"filter": "datum.series === '融合反照率'"}], "mark": {"type": "circle", "size": 28, "opacity": 1, "clip": true},
       "encoding": {"fill": {"field": "series", "type": "nominal", "scale": {"domain": ["融合反照率"], "range": ["#e8232a"]}, "legend": {"legendX": 277, "legendY": 54.5, "symbolType": "circle", "symbolSize": 28, "labelOffset": 8}}}}
     ]
    }
   ]
  }
 ]
}
